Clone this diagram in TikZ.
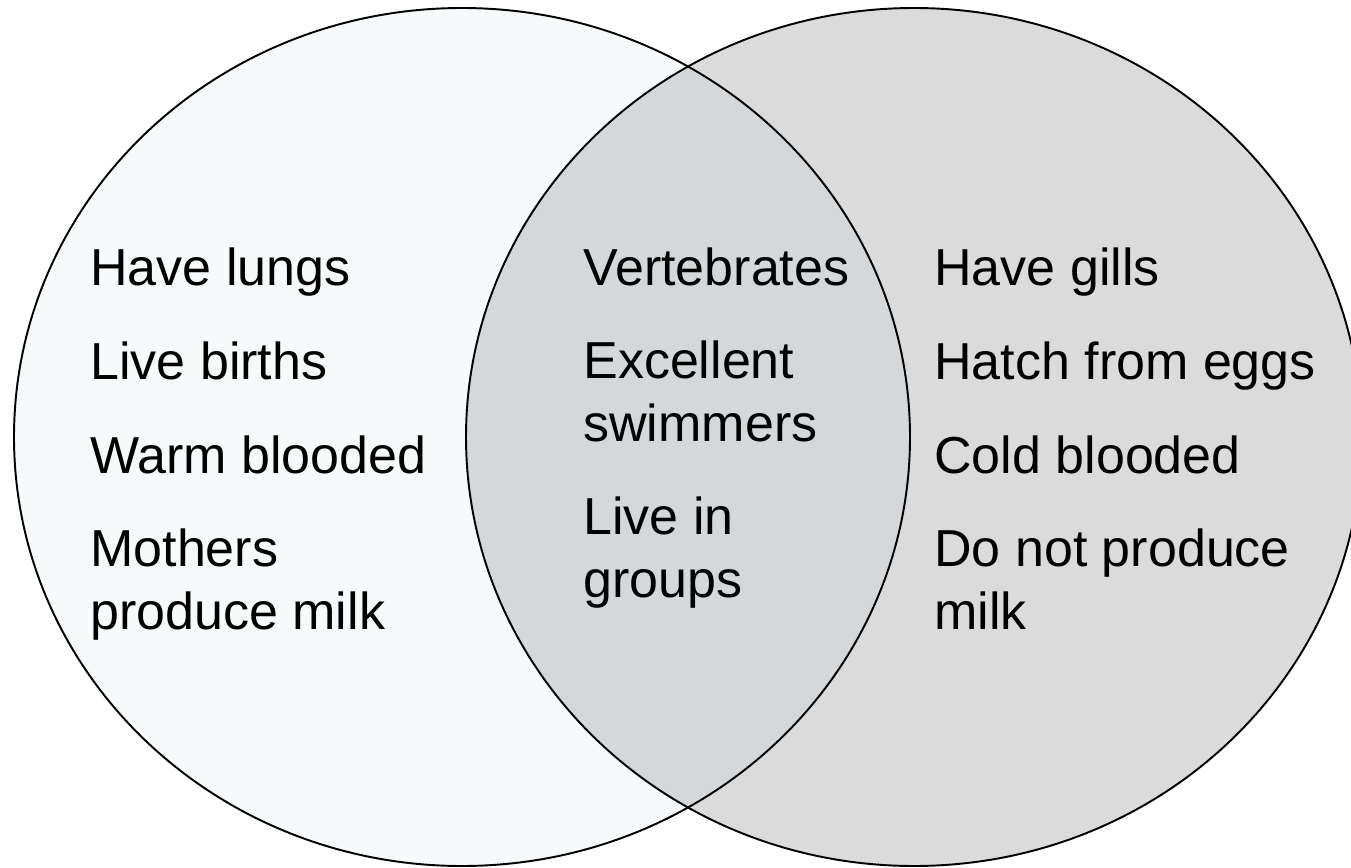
\documentclass[tikz,border=0pt]{standalone}
\usepackage{fontspec}
\setmainfont{Liberation Sans}
\definecolor{leftfill}{HTML}{F7FAFB}
\definecolor{rightfill}{HTML}{DBDBDB}
\definecolor{bothfill}{HTML}{D4D8DA}
\begin{document}
\begin{tikzpicture}[x=0.02cm, y=-0.02cm, outline/.style = {draw=black, line width=1.1pt}, item/.style = {anchor=base west, align=left, inner sep=0pt, font=\fontsize{29.6}{35.3}\selectfont}]
            \useasboundingbox (0,0) rectangle (1351,868);
            \fill[leftfill] (462,437) ellipse [x radius=448, y radius=429];
            \fill[rightfill] (914,437) ellipse [x radius=448, y radius=429];
            \begin{scope}
                \clip (462,437) ellipse [x radius=448, y radius=429];
                \fill[bothfill] (914,437) ellipse [x radius=448, y radius=429];
            \end{scope}
            \draw[outline] (462,437) ellipse [x radius=448, y radius=429];
            \draw[outline] (914,437) ellipse [x radius=448, y radius=429];
            
            % multi-line items are placed by their last line
            \node[item] (l1) at (90,285)    {Have lungs};
            \node[item] (l2) at (90,379)    {Live births};
            \node[item] (l3) at (90,473)    {Warm blooded};
            \node[item] (l4) at (90,629)    {Mothers\\produce milk};
            
            \node[item] (m1) at (583,285)   {Vertebrates};
            \node[item] (m2) at (583,441)   {Excellent\\swimmers};
            \node[item] (m3) at (583,597)   {Live in\\groups};
            
            \node[item] (r1) at (934,285)   {Have gills};
            \node[item] (r2) at (934,379)   {Hatch from eggs};
            \node[item] (r3) at (934,473)   {Cold blooded};
            \node[item] (r4) at (934,629)   {Do not produce\\milk};
        \end{tikzpicture}
\end{document}
